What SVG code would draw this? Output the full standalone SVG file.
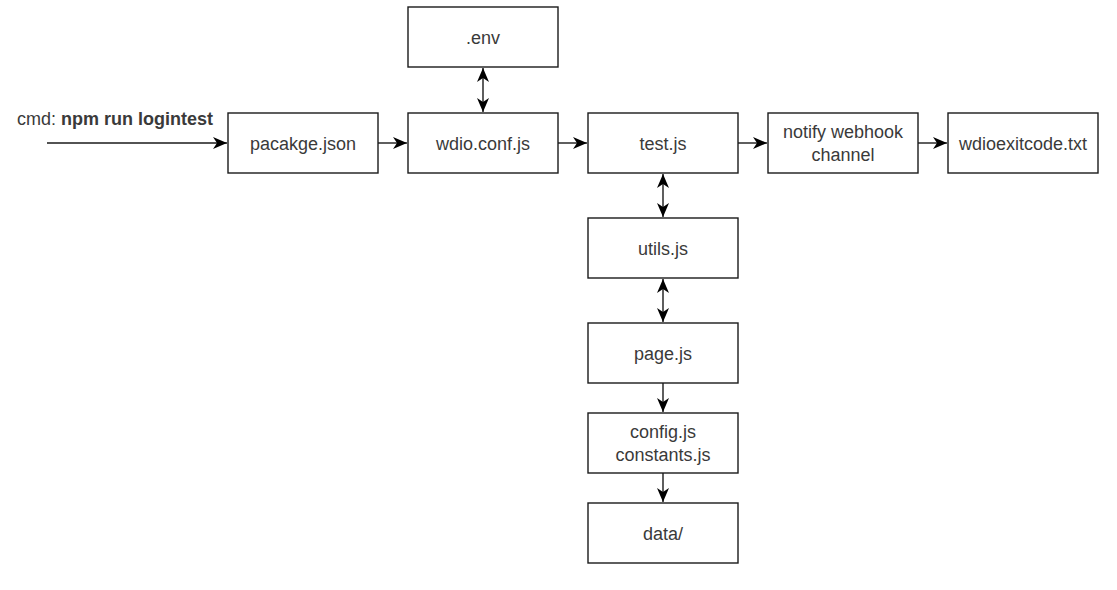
<svg xmlns="http://www.w3.org/2000/svg" width="1117" height="590" viewBox="0 0 1117 590">
<style>
.box{fill:#fff;stroke:#1a1a1a;stroke-width:1.4}
.lbl{font-family:"Liberation Sans",Arial,sans-serif;font-size:18px;fill:#3a3a3a;text-anchor:middle}
.edge{fill:none;stroke:#1a1a1a;stroke-width:1.4}
</style>
<defs>
<marker id="ah" markerUnits="userSpaceOnUse" markerWidth="14" markerHeight="12" refX="14" refY="6" orient="auto-start-reverse" viewBox="0 0 14 12">
<path d="M0,0 L14,6 L0,12 L4,6 Z" fill="#000"/>
</marker>
</defs>
<rect width="1117" height="590" fill="#fff"/>
<g id="connectors">
<path class="edge" d="M47,143 H227" marker-end="url(#ah)"/>
<path class="edge" d="M378,143 H407" marker-end="url(#ah)"/>
<path class="edge" d="M558,143 H587" marker-end="url(#ah)"/>
<path class="edge" d="M738,143 H767" marker-end="url(#ah)"/>
<path class="edge" d="M918,143 H947" marker-end="url(#ah)"/>
<path class="edge" d="M483,68 V112" marker-start="url(#ah)" marker-end="url(#ah)"/>
<path class="edge" d="M663,174 V217" marker-start="url(#ah)" marker-end="url(#ah)"/>
<path class="edge" d="M663,279 V322" marker-start="url(#ah)" marker-end="url(#ah)"/>
<path class="edge" d="M663,383 V412" marker-end="url(#ah)"/>
<path class="edge" d="M663,473 V502" marker-end="url(#ah)"/>
</g>
<g id="cmd-label">
<text class="lbl" x="17" y="125" style="text-anchor:start">cmd: <tspan font-weight="bold">npm run logintest</tspan></text>
</g>
<g id="node-package">
<rect class="box" x="228" y="113" width="150" height="60"/>
<text class="lbl" x="303" y="149.5">pacakge.json</text>
</g>
<g id="node-env">
<rect class="box" x="408" y="7" width="150" height="60"/>
<text class="lbl" x="483" y="43.5">.env</text>
</g>
<g id="node-wdio">
<rect class="box" x="408" y="113" width="150" height="60"/>
<text class="lbl" x="483" y="149.5">wdio.conf.js</text>
</g>
<g id="node-test">
<rect class="box" x="588" y="113" width="150" height="60"/>
<text class="lbl" x="663" y="149.5">test.js</text>
</g>
<g id="node-notify">
<rect class="box" x="768" y="113" width="150" height="60"/>
<text class="lbl" x="843" y="138">notify webhook</text>
<text class="lbl" x="843" y="160.5">channel</text>
</g>
<g id="node-exitcode">
<rect class="box" x="948" y="113" width="150" height="60"/>
<text class="lbl" x="1023" y="149.5">wdioexitcode.txt</text>
</g>
<g id="node-utils">
<rect class="box" x="588" y="218" width="150" height="60"/>
<text class="lbl" x="663" y="254.5">utils.js</text>
</g>
<g id="node-page">
<rect class="box" x="588" y="323" width="150" height="60"/>
<text class="lbl" x="663" y="359.5">page.js</text>
</g>
<g id="node-config">
<rect class="box" x="588" y="413" width="150" height="60"/>
<text class="lbl" x="663" y="438">config.js</text>
<text class="lbl" x="663" y="460.5">constants.js</text>
</g>
<g id="node-data">
<rect class="box" x="588" y="503" width="150" height="60"/>
<text class="lbl" x="663" y="539.5">data/</text>
</g>
</svg>
